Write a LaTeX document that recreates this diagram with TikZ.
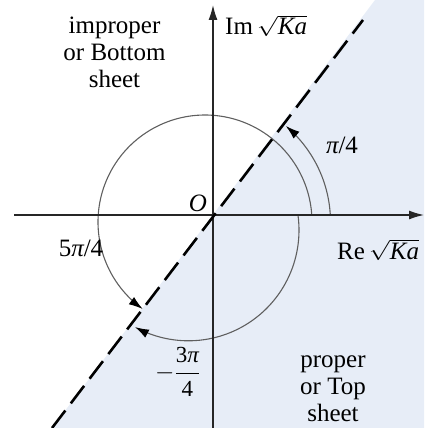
\documentclass[tikz,border=0pt]{standalone}
\usepackage{graphicx}
\usepackage{fontspec}
\setmainfont{Liberation Serif}
\usetikzlibrary{arrows.meta}
\definecolor{sheetblue}{RGB}{231,237,247}
\definecolor{arcgray}{RGB}{95,95,95}
\newcommand{\sqrtKa}{\scalebox{1}[0.8]{$\sqrt{\mbox{\scalebox{1}[1.25]{\itshape Ka}}}$}}
\begin{document}
\begin{tikzpicture}[x=1pt,y=-1pt,
  lbl/.style={inner sep=0pt, font=\fontsize{25}{27}\selectfont},
  axisline/.style={draw=black!85, line width=1.3pt, -{Latex[length=15pt,width=9pt]}},
  arcline/.style={draw=arcgray, line width=1.1pt, line join=round, -{Latex[length=14pt,width=9pt,color=black]}},
  branch/.style={draw=black, line width=2.6pt, dash pattern=on 22pt off 9pt}]
\useasboundingbox (0,0) rectangle (424,428);
% shaded proper sheet
\fill[sheetblue] (375,0) -- (424,0) -- (424,428) -- (52,428) -- cycle;
% named points
\coordinate (O) at (213,215);
\coordinate (xs) at (14,215);
\coordinate (xe) at (424,215);
\coordinate (ys) at (213,428);
\coordinate (ye) at (213,5);
\coordinate (bt) at (363,20);
\coordinate (bb) at (52,428);
% arcs
\draw[arcline] plot[smooth, domain=3.2:49.9, samples=40, variable=\t] ({205+125.5*cos(\t)},{222-125.5*sin(\t)});
\draw[arcline] plot[smooth, domain=3.7:234.4, samples=80, variable=\t] ({205+107*cos(\t)},{222-107*sin(\t)});
\draw[arcline] plot[smooth, domain=7.9:-118.9, samples=60, variable=\t] ({188.4+110.6*cos(\t)},{230.2-110.6*sin(\t)});
% axes
\draw[axisline] (xs) -- (xe);
\draw[axisline] (ys) -- (ye);
% branch cut
\draw[branch] (bb) -- (bt);
% labels
\node[lbl, anchor=base, align=center] (imp) at (114.5,87) {improper\\or Bottom\\sheet};
\node[lbl, anchor=base, align=center] (prop) at (333,421) {proper\\or Top\\sheet};
\node[lbl, anchor=base west] (im) at (225,35) {Im\,\sqrtKa};
\node[lbl, anchor=base west] (re) at (337,259) {Re\,\sqrtKa};
\node[lbl, anchor=base] (q) at (342,153) {{\itshape π}/4};
\node[lbl, anchor=base] (o) at (198,211) {\itshape O};
\node[lbl, anchor=base] (f) at (81,256) {5{\itshape π}/4};
\node[inner sep=0pt, font=\fontsize{23}{25}\selectfont, anchor=base west] (m) at (155,379) {$\displaystyle -\frac{\mbox{3{\itshape π}}}{\mbox{4}}$};
\end{tikzpicture}
\end{document}
